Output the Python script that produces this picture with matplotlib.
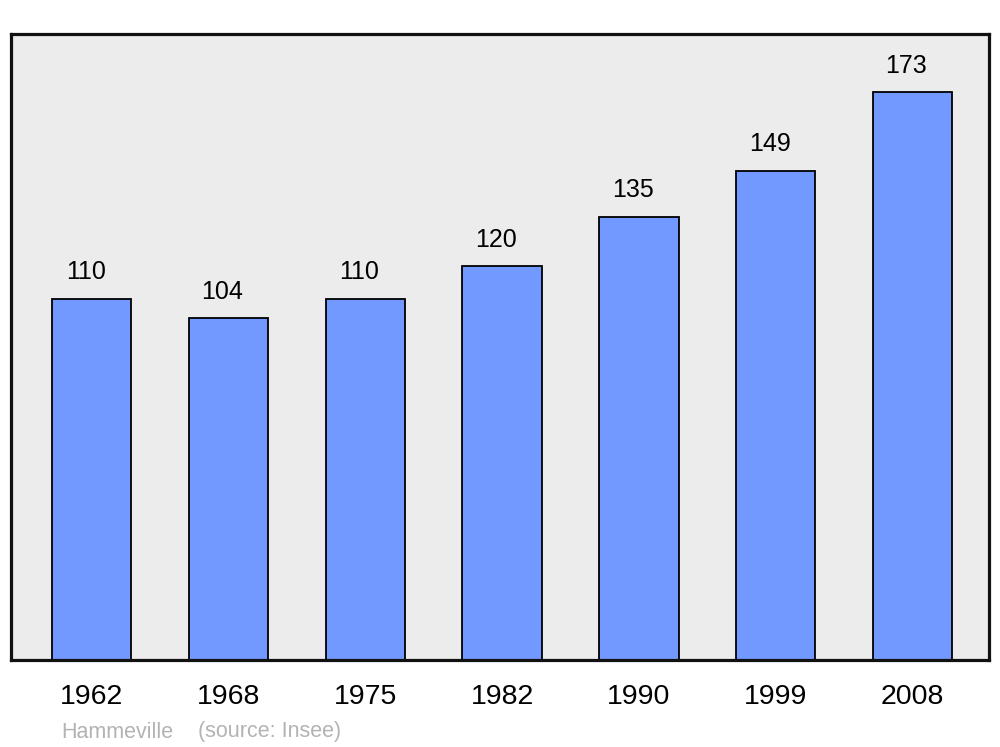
import matplotlib.pyplot as plt

# -------------------- Data -------------------- #
years = ["1962", "1968", "1975", "1982", "1990", "1999", "2008"]
population = [110, 104, 110, 120, 135, 149, 173]
town = "Hammeville"
source = "(source: Insee)"

plt.rcParams["font.family"] = ["Liberation Sans", "DejaVu Sans"]

fig = plt.figure(figsize=(10, 7.47), dpi=100)
ax = fig.add_axes([0.011, 1 - 660 / 747, 0.978, (660 - 34) / 747])
ax.set_facecolor("#ececec")

positions = list(range(len(years)))
ax.bar(positions, population, width=0.58, color="#7299ff",
       edgecolor="black", linewidth=1.3, zorder=2)

# value labels above the bars
for x, v in zip(positions, population):
    ax.text(x - 0.044, v + 8.0, str(v), ha="center", va="center", fontsize=18)

ax.set_xlim(-0.59, 6.56)
ax.set_ylim(0, 190.6)
ax.set_xticks(positions)
ax.set_xticklabels(years, fontsize=20.5)
ax.tick_params(axis="x", length=0, pad=17.5)
ax.set_yticks([])
for s in ax.spines.values():
    s.set_linewidth(2.3)
    s.set_color("#111111")

fig.text(0.061, 1 - 732 / 747, town, fontsize=15.5, color="#b3b3b3", va="center")
fig.text(0.198, 1 - 732 / 747, source, fontsize=15.5, color="#b3b3b3", va="center")

fig.savefig("out.png", dpi=100)
